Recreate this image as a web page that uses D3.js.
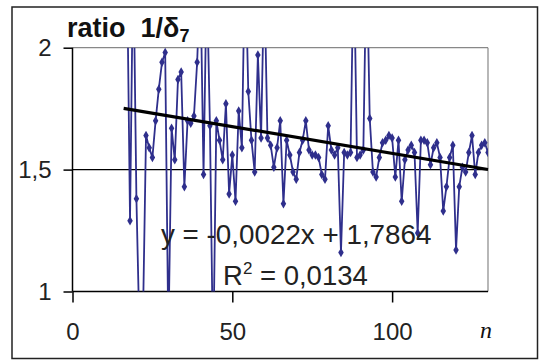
<!DOCTYPE html>
<html><head><meta charset="utf-8">
<script src="https://cdn.jsdelivr.net/npm/d3@7"></script>
<style>body{margin:0;background:#fff}</style>
</head><body><svg id="c" width="539" height="361"></svg>
<script>
// n runs from firstN upward, one value per integer n
const firstN = 16;
const ratios = [
  2.3, 2.4, 1.29, 2.4, 1.38, 0.8, 0.85, 1.64, 1.59, 1.55,
  1.70, 1.83, 1.94, 1.98, 0.8, 1.67, 1.54, 1.87, 1.90, 1.43,
  1.70, 1.69, 1.72, 1.94, 2.3, 1.48, 2.3, 1.68, 0.7, 1.70,
  1.62, 1.54, 1.77, 1.40, 1.56, 1.37, 1.74, 1.59, 2.4, 1.82,
  1.62, 1.49, 1.97, 1.63, 2.3, 1.63, 1.60, 1.51, 1.59, 1.70,
  1.36, 1.62, 1.56, 1.49, 1.46, 1.57, 1.62, 1.70, 1.58, 1.56,
  1.56, 1.55, 1.48, 1.46, 1.68, 1.58, 1.56, 1.59, 1.16, 1.57,
  1.56, 1.57, 2.4, 1.55, 1.56, 1.58, 2.4, 1.71, 1.49, 1.47,
  1.55, 1.61, 1.62, 1.64, 1.63, 1.47, 1.62, 1.37, 1.54, 1.58,
  1.60, 1.57, 1.24, 1.62, 1.62, 1.61, 1.52, 1.59, 1.61, 1.55,
  1.33, 1.43, 1.55, 1.60, 1.17, 1.43, 1.51, 1.49, 1.57, 1.64,
  1.48, 1.57, 1.60, 1.61, 1.57
];
const xTicks = [0, 50, 100];
const xTickLabels = ["0", "50", "100"];
const yTicks = [1, 1.5, 2];
const yTickLabels = ["1", "1,5", "2"];
const xDomain = [0, 130];
const yDomain = [1, 2];
const trendSlope = -0.0022;
const trendIntercept = 1.7864;
const eqText = "y = -0,0022x + 1,7864";
const r2Value = "0,0134";

const data = ratios.map((v, i) => ({n: firstN + i, v}));

const svg = d3.select("#c");
const L = 72.5, R = 488, T = 47.7, B = 291.5;
const x = d3.scaleLinear().domain(xDomain).range([L, R]);
const y = d3.scaleLinear().domain(yDomain).range([B, T]);

// outer frame
svg.append("rect").attr("x", 12).attr("y", 7).attr("width", 525.5).attr("height", 351.5)
  .attr("fill", "#fff").attr("stroke", "#222").attr("stroke-width", 1.5);

// plot area border (gray top/right)
svg.append("line").attr("x1", L).attr("x2", R).attr("y1", T).attr("y2", T).attr("stroke", "#888").attr("stroke-width", 1.2);
svg.append("line").attr("x1", R).attr("x2", R).attr("y1", T).attr("y2", B).attr("stroke", "#888").attr("stroke-width", 1.2);

// gridline at 1.5
svg.append("line").attr("x1", L).attr("x2", R).attr("y1", y(1.5)).attr("y2", y(1.5)).attr("stroke", "#000").attr("stroke-width", 1.2);

const font = "Arial, 'Liberation Sans', sans-serif";

// axes
const yAxis = d3.axisLeft(y).tickValues(yTicks).tickSize(9).tickPadding(12)
  .tickFormat((d, i) => yTickLabels[i]);
const gy = svg.append("g").attr("transform", `translate(${L},0)`).call(yAxis);
const xAxis = d3.axisBottom(x).tickValues(xTicks).tickSize(11).tickPadding(20)
  .tickFormat((d, i) => xTickLabels[i]);
const gx = svg.append("g").attr("transform", `translate(0,${B})`).call(xAxis);
[gx, gy].forEach(g => {
  g.select(".domain").attr("stroke", "#000").attr("stroke-width", 1.5);
  g.selectAll(".tick line").attr("stroke", "#000").attr("stroke-width", 1.5);
  g.selectAll("text").attr("font-family", font).attr("font-size", 24).attr("fill", "#222");
});
gx.select(".domain").attr("d", `M${L},0H${R}`);
gy.select(".domain").attr("d", `M0,${B}V${T}`);

// clip
svg.append("clipPath").attr("id", "clip").append("rect")
  .attr("x", L).attr("y", T).attr("width", R - L).attr("height", B - T);

const navy = "#2f2f8c";
const g = svg.append("g").attr("clip-path", "url(#clip)");
g.append("path").datum(data)
  .attr("d", d3.line().x(d => x(d.n)).y(d => y(d.v)))
  .attr("fill", "none").attr("stroke", navy).attr("stroke-width", 1.8);
g.selectAll("path.m").data(data).enter().append("path").attr("class", "m")
  .attr("transform", d => `translate(${x(d.n)},${y(d.v)})`)
  .attr("d", d3.symbol().type(d3.symbolDiamond).size(26))
  .attr("fill", navy);

// trendline
const n0 = data[0].n, n1 = data[data.length - 1].n;
svg.append("line")
  .attr("x1", x(n0)).attr("y1", y(trendIntercept + trendSlope * n0))
  .attr("x2", x(n1)).attr("y2", y(trendIntercept + trendSlope * n1))
  .attr("stroke", "#000").attr("stroke-width", 3.2);

// equation labels
svg.append("text").attr("x", 161).attr("y", 244).attr("font-family", font).attr("font-size", 27.8)
  .attr("fill", "#222").text(eqText);
const r2 = svg.append("text").attr("x", 223).attr("y", 285).attr("font-family", font).attr("font-size", 27.5).attr("fill", "#222");
r2.append("tspan").text("R");
r2.append("tspan").attr("dy", -11).attr("font-size", 17).text("2");
r2.append("tspan").attr("dy", 11).text(" = " + r2Value);

// title
const t = svg.append("text").attr("x", 67).attr("y", 37).attr("font-family", font)
  .attr("font-weight", "bold").attr("font-size", 27).attr("fill", "#111")
  .style("white-space", "pre");
t.append("tspan").text("ratio  1/δ");
t.append("tspan").attr("dy", 5).attr("font-size", 18).text("7");

// axis name n
svg.append("text").attr("x", 480).attr("y", 338).attr("font-family", "'Liberation Serif', serif")
  .attr("font-style", "italic").attr("font-size", 24).attr("fill", "#111").text("n");
</script></body></html>
